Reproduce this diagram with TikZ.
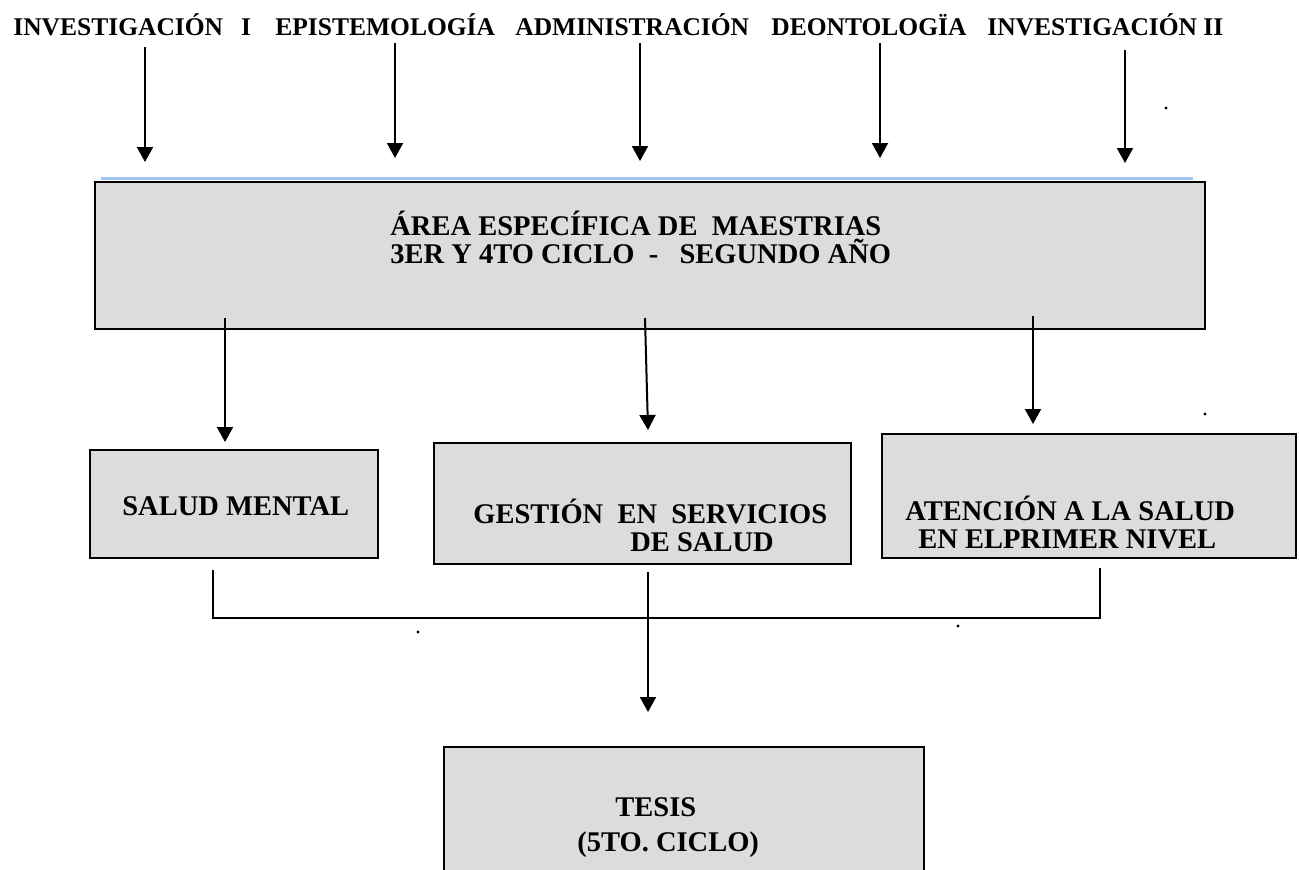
\documentclass[tikz,border=0pt]{standalone}
\usepackage{fontspec}
\setmainfont{Liberation Serif}
\usetikzlibrary{arrows.meta}
\definecolor{boxgray}{HTML}{DCDCDC}
\definecolor{topblue}{HTML}{9CC6F0}
\begin{document}
\begin{tikzpicture}[x=0.5pt,y=-0.5pt,
  box/.style={draw=black,line width=1pt,fill=boxgray,inner sep=0pt,anchor=north west},
  lbl/.style={font=\bfseries\fontsize{14.25}{16}\selectfont,inner sep=0pt,anchor=base west},
  toplbl/.style={font=\bfseries\fontsize{12.75}{15}\selectfont,inner sep=0pt,anchor=base west},
  arr/.style={line width=1pt,-{Triangle[width=8pt,length=7.5pt]}},
  ln/.style={line width=1pt},
  dot/.style={fill=black,circle,inner sep=0pt,minimum size=1.6pt}]
\useasboundingbox (0,0) rectangle (1299,869);
\clip (0,0) rectangle (1299,869);

% top line of subjects
\node[toplbl] (s1) at (13,35) {INVESTIGACIÓN\hspace{9pt}I};
\node[toplbl] (s2) at (275,35) {EPISTEMOLOGÍA};
\node[toplbl] (s3) at (515,35) {ADMINISTRACIÓN};
\node[toplbl] (s4) at (771,35) {DEONTOLOGÏA};
\node[toplbl] (s5) at (987,35) {INVESTIGACIÓN II};

% top arrows
\foreach \i/\x/\ya/\yb in {1/145/47/162, 2/395/43/158, 3/640/43/161, 4/880/43/158, 5/1125/50/163}{
  \coordinate (ta\i) at (\x,\ya);
  \coordinate (tb\i) at (\x,\yb);
  \draw[arr] (ta\i) -- (tb\i);
}
\node[dot] (d1) at (1166,108) {};

% main area box
\draw[topblue,line width=1.2pt] (101,178.5) coordinate (bl1) -- (1193,178.5) coordinate (bl2);
\node[box,minimum width=555pt,minimum height=73.5pt] (area) at (94,181) {};
\node[lbl] (area1) at (390,235) {ÁREA ESPECÍFICA DE\ \ MAESTRIAS};
\node[lbl] (area2) at (390,263) {3ER Y 4TO CICLO\ \ -\ \ \ SEGUNDO AÑO};

% arrows to specialisations
\coordinate (ma1) at (225,318); \coordinate (mb1) at (225,442);
\coordinate (ma2) at (645,318); \coordinate (mb2) at (648,430);
\coordinate (ma3) at (1033,316); \coordinate (mb3) at (1033,424);
\draw[arr] (ma1) -- (mb1);
\draw[arr] (ma2) -- (mb2);
\draw[arr] (ma3) -- (mb3);
\node[dot] (d2) at (1205,414) {};

% specialisation boxes
\node[box,minimum width=144pt,minimum height=54pt] (salud) at (89,449) {};
\node[lbl] (salud1) at (122,515) {SALUD MENTAL};
\node[box,minimum width=208.5pt,minimum height=60.5pt] (gestion) at (433,442) {};
\node[lbl] (gest1) at (473,523) {GESTIÓN\ \ EN\ \ SERVICIOS};
\node[lbl] (gest2) at (630,551) {DE SALUD};
\node[box,minimum width=207pt,minimum height=62pt] (atencion) at (881,433) {};
\node[lbl] (aten1) at (905,520) {ATENCIÓN A LA SALUD};
\node[lbl] (aten2) at (918,548) {EN ELPRIMER NIVEL};

% bracket joining the three
\coordinate (k1) at (213,570);
\coordinate (k2) at (213,618);
\coordinate (k3) at (1100,618);
\coordinate (k4) at (1100,568);
\draw[ln] (k1) -- (k2) -- (k3) -- (k4);
\node[dot] (d3) at (418,632) {};
\node[dot] (d4) at (958,626) {};

% arrow to thesis
\coordinate (ca) at (648,572);
\coordinate (cb) at (648,712);
\draw[arr] (ca) -- (cb);

% thesis box
\node[box,minimum width=240pt,minimum height=80pt] (tesis) at (443,746) {};
\node[lbl] (tes1) at (615,816) {TESIS};
\node[lbl] (tes2) at (577,851) {(5TO. CICLO)};
\end{tikzpicture}
\end{document}
